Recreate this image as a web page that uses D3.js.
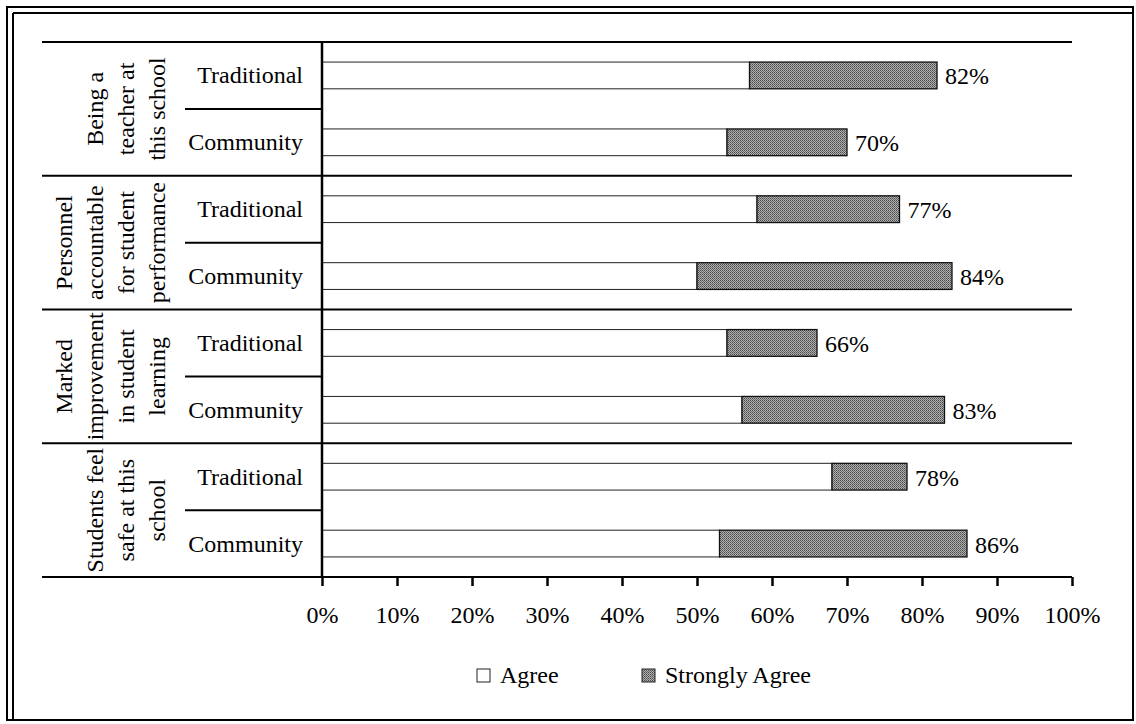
<!DOCTYPE html>
<html>
<head>
<meta charset="utf-8">
<script src="https://cdn.jsdelivr.net/npm/d3@7"></script>
<style>
  html, body { margin: 0; padding: 0; background: #fff; }
  svg { display: block; }
  text { font-family: "Liberation Serif", "Times New Roman", serif; fill: #000; }
</style>
</head>
<body>
<svg id="chart" width="1136" height="724"></svg>
<script>
// ---- data ----
const groupLabelLines = [
  ["Being a", "teacher at", "this school"],
  ["Personnel", "accountable", "for student", "performance"],
  ["Marked", "improvement", "in student", "learning"],
  ["Students feel", "safe at this", "school"]
];
const schoolTypes = ["Traditional", "Community"];
const agree =         [57, 54, 58, 50, 54, 56, 68, 53];
const stronglyAgree = [25, 16, 19, 34, 12, 27, 10, 33];
const totalLabels =   ["82%", "70%", "77%", "84%", "66%", "83%", "78%", "86%"];
const tickValues = [0, 10, 20, 30, 40, 50, 60, 70, 80, 90, 100];
const tickLabels = ["0%", "10%", "20%", "30%", "40%", "50%", "60%", "70%", "80%", "90%", "100%"];
const legendLabels = ["Agree", "Strongly Agree"];

// ---- layout ----
const svg = d3.select("#chart");
const plotLeft = 322, plotRight = 1072, plotTop = 42, plotBottom = 577;
const tableLeft = 42, subLeft = 185;

const rows = [];
groupLabelLines.forEach((g, gi) => schoolTypes.forEach((s, si) => rows.push({gi, si, id: gi * 2 + si})));

const x = d3.scaleLinear().domain([0, 100]).range([plotLeft, plotRight]);
const yGroup = d3.scaleBand().domain(d3.range(groupLabelLines.length)).range([plotTop, plotBottom]);
const yRow = d3.scaleBand().domain(d3.range(rows.length)).range([plotTop, plotBottom]).paddingInner(0.6).paddingOuter(0.3);
const yRowFull = d3.scaleBand().domain(d3.range(rows.length)).range([plotTop, plotBottom]);

// stipple pattern for "Strongly Agree"
const defs = svg.append("defs");
const pat = defs.append("pattern").attr("id", "stip").attr("patternUnits", "userSpaceOnUse")
  .attr("width", 2).attr("height", 2);
pat.append("rect").attr("width", 2).attr("height", 2).attr("fill", "#b0b0b0");
pat.append("rect").attr("width", 1).attr("height", 1).attr("fill", "#4a4a4a");
pat.append("rect").attr("x", 1).attr("y", 1).attr("width", 1).attr("height", 1).attr("fill", "#6a6a6a");

// frame
svg.append("rect").attr("x", 7).attr("y", 7).attr("width", 1126).attr("height", 713)
  .attr("fill", "none").attr("stroke", "#000").attr("stroke-width", 2);
svg.append("line").attr("x1", 13).attr("x2", 1133).attr("y1", 13).attr("y2", 13)
  .attr("stroke", "#000").attr("stroke-width", 2);
svg.append("line").attr("x1", 13).attr("x2", 13).attr("y1", 13).attr("y2", 720)
  .attr("stroke", "#000").attr("stroke-width", 2);

// bars: Agree
svg.append("g").selectAll("rect").data(rows).join("rect")
  .attr("x", x(0))
  .attr("y", d => yRow(d.id))
  .attr("width", d => x(agree[d.id]) - x(0))
  .attr("height", yRow.bandwidth())
  .attr("fill", "#fff").attr("stroke", "#222").attr("stroke-width", 1);

// bars: Strongly Agree
svg.append("g").selectAll("rect").data(rows).join("rect")
  .attr("x", d => x(agree[d.id]))
  .attr("y", d => yRow(d.id))
  .attr("width", d => x(agree[d.id] + stronglyAgree[d.id]) - x(agree[d.id]))
  .attr("height", yRow.bandwidth())
  .attr("fill", "url(#stip)").attr("stroke", "#111").attr("stroke-width", 1.3);

// value labels
svg.append("g").selectAll("text").data(rows).join("text")
  .attr("x", d => x(agree[d.id] + stronglyAgree[d.id]) + 8)
  .attr("y", d => yRow(d.id) + yRow.bandwidth() / 2 + 1)
  .attr("dominant-baseline", "central")
  .attr("font-size", 24)
  .text(d => totalLabels[d.id]);

// group separator lines
const gLines = svg.append("g").attr("stroke", "#000").attr("stroke-width", 2);
gLines.selectAll("line.grp").data(d3.range(groupLabelLines.length + 1)).join("line")
  .attr("class", "grp")
  .attr("x1", tableLeft).attr("x2", plotRight)
  .attr("y1", i => i < groupLabelLines.length ? yGroup(i) : plotBottom)
  .attr("y2", i => i < groupLabelLines.length ? yGroup(i) : plotBottom);
// sub-row separators
gLines.selectAll("line.sub").data(d3.range(groupLabelLines.length)).join("line")
  .attr("class", "sub")
  .attr("x1", subLeft).attr("x2", plotLeft)
  .attr("y1", i => yGroup(i) + yGroup.bandwidth() / 2)
  .attr("y2", i => yGroup(i) + yGroup.bandwidth() / 2);

// vertical axis line
svg.append("line").attr("x1", plotLeft).attr("x2", plotLeft).attr("y1", plotTop).attr("y2", plotBottom)
  .attr("stroke", "#000").attr("stroke-width", 2.5);

// x axis
const xAxis = d3.axisBottom(x).tickValues(tickValues).tickSize(9).tickPadding(20)
  .tickFormat((d, i) => tickLabels[i]);
const ax = svg.append("g").attr("transform", `translate(0,${plotBottom})`).call(xAxis);
ax.select(".domain").remove();
ax.selectAll(".tick line").attr("stroke", "#000").attr("stroke-width", 2.5);
ax.selectAll(".tick text").attr("font-size", 24).attr("font-family", "Liberation Serif").attr("fill", "#000")
  .attr("dy", 0).attr("y", 46);

// row category labels
svg.append("g").selectAll("text").data(rows).join("text")
  .attr("x", 303)
  .attr("y", d => yRowFull(d.id) + yRowFull.bandwidth() / 2)
  .attr("text-anchor", "end")
  .attr("dominant-baseline", "central")
  .attr("font-size", 24)
  .text(d => schoolTypes[d.si]);

// rotated group labels
const lineGap = 31, lastLineX = 157;
groupLabelLines.forEach((lines, gi) => {
  const cy = yGroup(gi) + yGroup.bandwidth() / 2;
  lines.forEach((ln, li) => {
    const cx = lastLineX - (lines.length - 1 - li) * lineGap;
    svg.append("text")
      .attr("transform", `translate(${cx},${cy}) rotate(-90)`)
      .attr("text-anchor", "middle")
      .attr("dominant-baseline", "central")
      .attr("font-size", 24)
      .text(ln);
  });
});

// legend
const legendItems = [
  {label: legendLabels[0], x: 477, fill: "#fff"},
  {label: legendLabels[1], x: 642, fill: "url(#stip)"}
];
const lg = svg.append("g").selectAll("g").data(legendItems).join("g");
lg.append("rect").attr("x", d => d.x).attr("y", 669).attr("width", 13).attr("height", 13)
  .attr("fill", d => d.fill).attr("stroke", "#222").attr("stroke-width", 1);
lg.append("text").attr("x", d => d.x + 23).attr("y", 683).attr("font-size", 24).text(d => d.label);
</script>
</body>
</html>
